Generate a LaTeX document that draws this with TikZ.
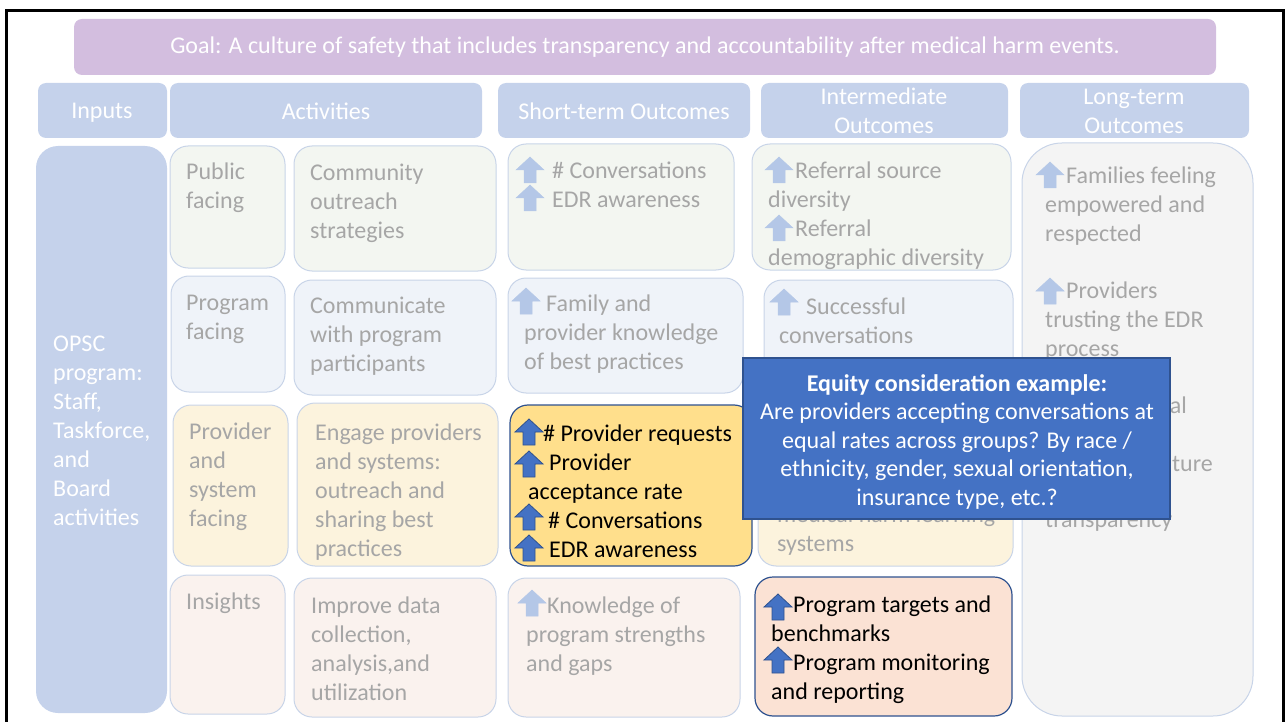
\documentclass[tikz,border=0pt]{standalone}
\usepackage{fontspec}
\setmainfont{Carlito}
\definecolor{goalpurple}{RGB}{211,190,223}
\definecolor{hdrblue}{RGB}{197,210,235}
\definecolor{edgeblue}{RGB}{200,212,232}
\definecolor{darkblue}{RGB}{47,82,143}
\definecolor{eqblue}{RGB}{68,114,196}
\definecolor{palearrow}{RGB}{180,199,231}
\definecolor{fadegrey}{RGB}{166,166,166}
\definecolor{tintgreen}{RGB}{243,246,241}
\definecolor{tintblue}{RGB}{239,243,249}
\definecolor{tintyellow}{RGB}{252,243,221}
\definecolor{tintpink}{RGB}{250,242,238}
\definecolor{hiyellow}{RGB}{255,223,140}
\definecolor{hipeach}{RGB}{251,226,212}
\definecolor{ltgrey}{RGB}{244,244,244}
\tikzset{pics/uparr/.style={code={\filldraw (0,0) -- (14,13) -- (6,13) -- (6,26) -- (-6,26) -- (-6,13) -- (-14,13) -- cycle;}}}
\begin{document}
\begin{tikzpicture}[x=1pt,y=-1pt,
  hdr/.style={fill=hdrblue,rounded corners=8pt},
  cell/.style={draw=edgeblue,line width=1pt,rounded corners=18pt},
  hicell/.style={draw=darkblue,line width=1.2pt,rounded corners=18pt},
  hdrtxt/.style={inner sep=0pt,align=center,text=white,font=\fontsize{24}{29}\selectfont},
  txt/.style={anchor=north west,inner sep=0pt,align=left,text=fadegrey,font=\fontsize{24}{29}\selectfont},
  hitxt/.style={txt,text=black},
  palearr/.style={fill=palearrow,draw=palearrow,line width=0.5pt},
  darkarr/.style={fill=eqblue,draw=darkblue,line width=0.8pt}]
\useasboundingbox (0,0) rectangle (1288,722);
\draw[line width=3pt] (6,722) -- (6,11) -- (1283,11) -- (1283,722);
\fill[goalpurple,rounded corners=8pt] (74,19) rectangle (1216,75);
\node[hdrtxt] (goal) at (645,47) {Goal: A culture of safety that includes transparency and accountability after medical harm events.};
\fill[hdr] (38,83) rectangle (167,138);
\fill[hdr] (170,83) rectangle (482,138);
\fill[hdr] (498,83) rectangle (750,138);
\fill[hdr] (761,83) rectangle (1008,138);
\fill[hdr] (1020,83) rectangle (1249,138);
\node[hdrtxt] (inputs) at (102,113) {Inputs};
\node[hdrtxt] (activities) at (326,111) {Activities};
\node[hdrtxt] (shortterm) at (624,111) {Short-term Outcomes};
\node[hdrtxt] (intermed) at (884,111) {Intermediate\\Outcomes};
\node[hdrtxt] (longterm) at (1134,111) {Long-term\\Outcomes};
\fill[hdrblue,rounded corners=22pt] (36,146) rectangle (167,713);
\node[txt,text=white] (opsc) at (53,331) {\strut OPSC\\program:\\Staff,\\Taskforce,\\and\\Board\\activities};
\draw[cell,fill=tintgreen] (170,146) rectangle (285,268);
\draw[cell,fill=tintgreen] (294,146) rectangle (496,271);
\draw[cell,fill=tintblue] (171,276) rectangle (285,392);
\draw[cell,fill=tintblue] (294,280) rectangle (496,395);
\draw[cell,fill=tintyellow] (173,405) rectangle (288,566);
\draw[cell,fill=tintyellow] (297,403) rectangle (498,566);
\draw[cell,fill=tintpink] (170,575) rectangle (285,714);
\draw[cell,fill=tintpink] (294,578) rectangle (496,717);
\node[txt] (pubf) at (186,159) {\strut Public\\facing};
\node[txt] (commout) at (310,160) {\strut Community\\outreach\\strategies};
\node[txt] (progf) at (186,290) {\strut Program\\facing};
\node[txt] (commprog) at (310,293) {\strut Communicate\\with program\\participants};
\node[txt] (provf) at (189,419) {\strut Provider\\and\\system\\facing};
\node[txt] (engage) at (315,420) {\strut Engage providers\\and systems:\\outreach and\\sharing best\\practices};
\node[txt] (insight) at (186,589) {\strut Insights};
\node[txt] (improve) at (311,593) {\strut Improve data\\collection,\\analysis,and\\utilization};
\draw[cell,fill=tintgreen] (508,144) rectangle (734,270);
\draw[cell,fill=tintblue] (508,278) rectangle (743,393);
\draw[hicell,fill=hiyellow] (510,405) rectangle (752,566);
\draw[cell,fill=tintpink] (508,578) rectangle (740,717);
\pic[palearr] at (530,157) {uparr};
\pic[palearr] at (530,185) {uparr};
\node[txt] (st1) at (552,158) {\strut\# Conversations\\EDR awareness};
\pic[palearr] at (526,288) {uparr};
\node[txt] (st2) at (524,291) {\strut\hspace*{22pt}Family and\\provider knowledge\\of best practices};
\pic[darkarr] at (529,419) {uparr};
\pic[darkarr] at (529,451) {uparr};
\pic[darkarr] at (529,504) {uparr};
\pic[darkarr] at (529,535) {uparr};
\node[hitxt] (st3) at (528,421) {\strut\hspace*{15pt}\# Provider requests\\\hspace*{21pt}Provider\\acceptance rate\\\hspace*{20pt}\# Conversations\\\hspace*{21pt}EDR awareness};
\pic[palearr] at (532,590) {uparr};
\node[txt] (st4) at (526,593) {\strut\hspace*{21pt}Knowledge of\\program strengths\\and gaps};
\draw[cell,fill=tintgreen] (752,144) rectangle (1011,270);
\draw[cell,fill=tintblue] (764,280) rectangle (1013,395);
\draw[cell,fill=tintyellow] (758,400) rectangle (1013,566);
\draw[hicell,fill=hipeach] (755,577) rectangle (1012,716);
\pic[palearr] at (779,157) {uparr};
\pic[palearr] at (779,215) {uparr};
\node[txt] (im1) at (768,158) {\strut\hspace*{27pt}Referral source\\diversity\\\hspace*{27pt}Referral\\demographic diversity};
\pic[palearr] at (784,289) {uparr};
\node[txt] (im2) at (779,294) {\strut\hspace*{27pt}Successful\\conversations};
\node[txt] (im3) at (777,502) {\strut medical harm learning\\systems};
\pic[darkarr] at (778,594) {uparr};
\pic[darkarr] at (778,647) {uparr};
\node[hitxt] (im4) at (771,592) {\strut\hspace*{22pt}Program targets and\\benchmarks\\\hspace*{22pt}Program monitoring\\and reporting};
\draw[draw=edgeblue,line width=1pt,fill=ltgrey,rounded corners=40pt] (1022,143) rectangle (1253,716);
\pic[palearr] at (1050,162) {uparr};
\pic[palearr] at (1050,278) {uparr};
\node[txt] (lt1) at (1045,163) {\strut\hspace*{21pt}Families feeling\\empowered and\\respected};
\node[txt] (lt2) at (1045,278) {\strut\hspace*{21pt}Providers\\trusting the EDR\\process};
\node[txt,anchor=base east] (ltal) at (1187,413) {al};
\node[txt,anchor=base east] (ltture) at (1213,471) {ture};
\node[txt] (lttransp) at (1045,507) {\strut transparency};
\draw[fill=eqblue,draw=darkblue,line width=1.2pt] (743,358) rectangle (1170,519);
\node[anchor=north,inner sep=0pt,align=center,text=white,font=\fontsize{24}{28.5}\selectfont] (equity) at (957,371) {\strut\textbf{Equity consideration example:}\\Are providers accepting conversations at\\equal rates across groups? By race /\\ethnicity, gender, sexual orientation,\\insurance type, etc.?};
\end{tikzpicture}
\end{document}
